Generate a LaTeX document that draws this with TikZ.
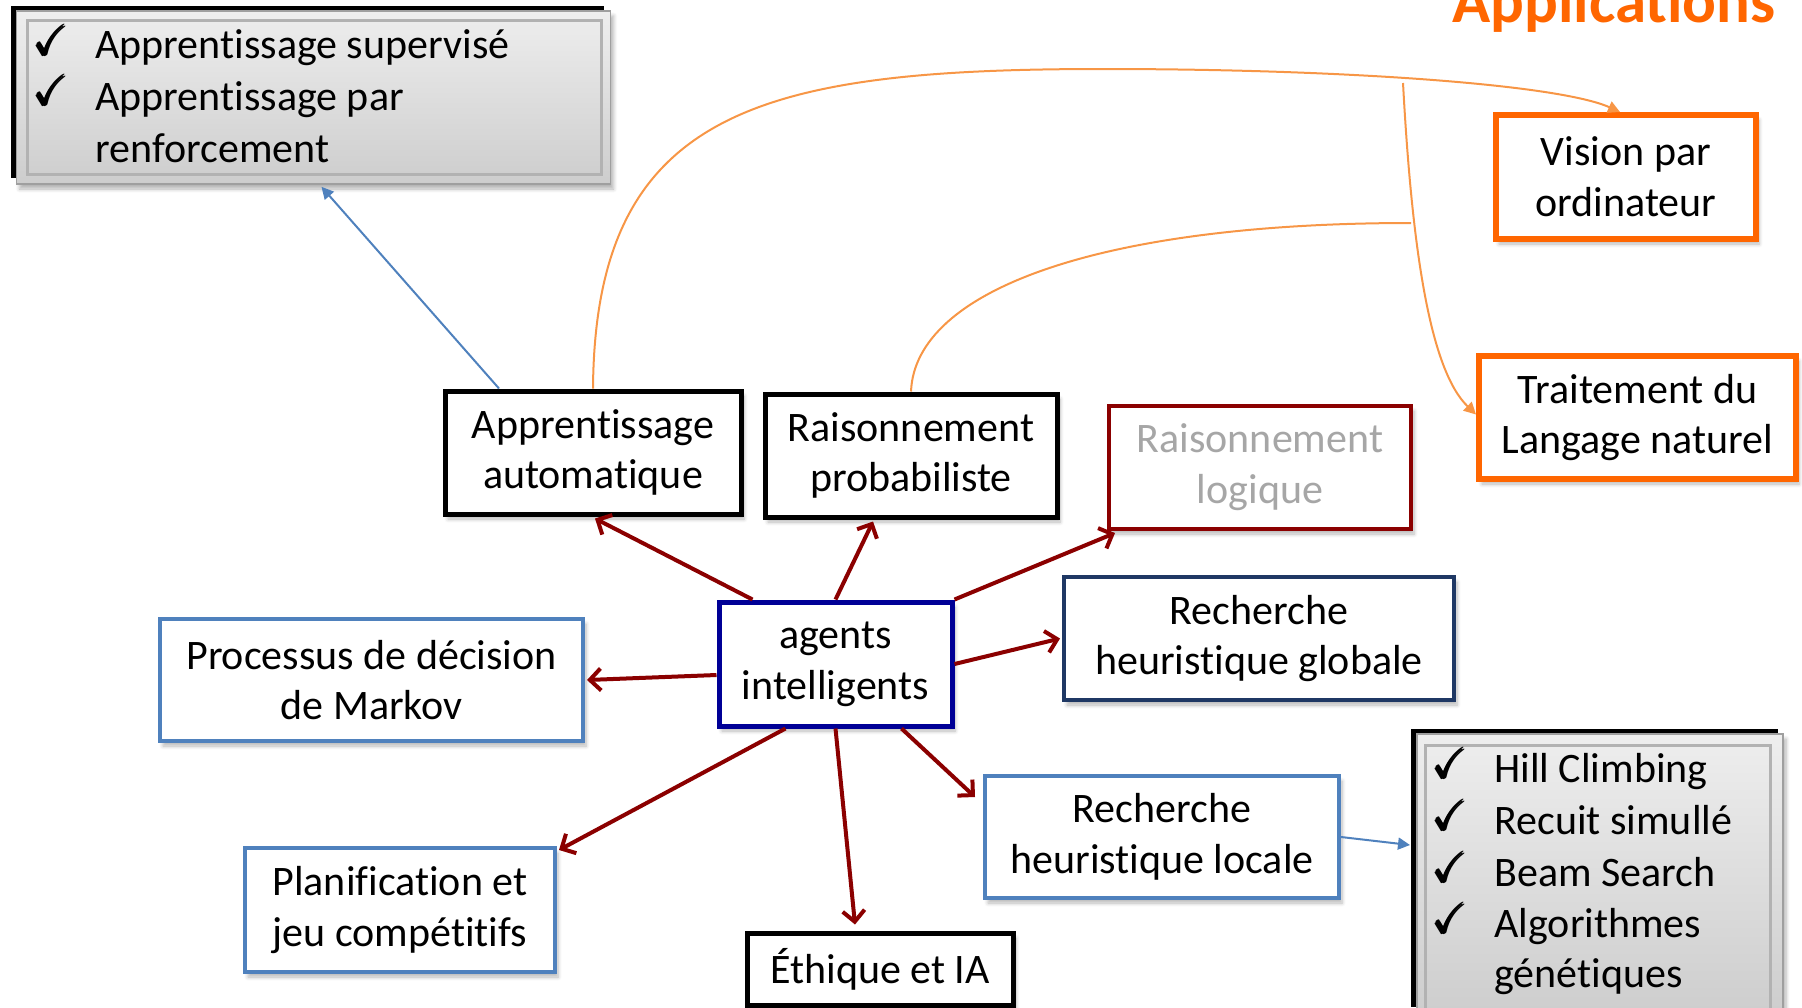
\documentclass[tikz,border=0pt]{standalone}
\usepackage{amsmath,amssymb}
\usepackage{fontspec}
\setmainfont{Carlito}[Ligatures=NoCommon]
\usetikzlibrary{arrows.meta,calc,shadows.blur}

\definecolor{arrowred}{RGB}{139,0,0}
\definecolor{navyedge}{RGB}{0,0,150}
\definecolor{deepblue}{RGB}{31,56,100}
\definecolor{softblue}{RGB}{79,129,189}
\definecolor{orangeedge}{RGB}{255,102,0}
\definecolor{orangeline}{RGB}{247,150,70}
\definecolor{mutedtext}{RGB}{166,166,166}
\definecolor{panelhi}{RGB}{238,238,238}
\definecolor{panello}{RGB}{205,205,205}

\newcommand{\tick}{\makebox[0pt][c]{$\pmb{\checkmark}$}}

\begin{document}
\begin{tikzpicture}[x=0.5pt,y=-0.5pt,
  txt/.style={font=\fontsize{21}{25.4}\selectfont},
  box/.style={txt, draw, fill=white, align=center, inner sep=0pt,
    blur shadow={shadow xshift=1.5pt, shadow yshift=-2.5pt, shadow opacity=28, shadow blur steps=6}},
  blackbox/.style={box, line width=2.5pt, draw=black},
  bluebox/.style={box, line width=2pt, draw=softblue},
  orangebox/.style={box, line width=3pt, draw=orangeedge},
  link/.style={draw=arrowred, line width=2pt, -{Straight Barb[length=5.5pt,width=11pt,line width=2pt]}},
  thinlink/.style={draw=softblue, line width=1pt, -{Triangle[length=6pt,width=6pt]}},
  applink/.style={draw=orangeline, line width=1pt},
  panel/.style={draw=gray!75, line width=0.8pt, top color=panelhi, bottom color=panello,
    blur shadow={shadow xshift=1.5pt, shadow yshift=-2.5pt, shadow opacity=30, shadow blur steps=6}},
  bevel/.style={draw=gray!60, line width=1.5pt},
  item/.style={txt, anchor=base west, inner sep=0pt},
  checkmark/.style={font=\fontsize{21}{24}\selectfont, anchor=base, inner sep=0pt}
]
\useasboundingbox (0,0) rectangle (1802,1007);
\clip (0,0) rectangle (1802,1007);

% ---- title ----
\node[font=\fontsize{31.5}{36}\selectfont\bfseries, text=orangeedge, anchor=base east, inner sep=0pt]
  (title) at (1776,22) {Applications};

% ---- learning panel (top left) ----
\fill[black] (11,6) rectangle (604,178);
\node[panel, minimum width=297pt, minimum height=86.5pt, inner sep=0pt] (sup) at (313.5,97.5) {};
\draw[bevel] (27,20) rectangle (601,174);
\node[checkmark] (c1) at (52,55) {\tick};
\node[item] (s1) at (95,58) {Apprentissage supervisé};
\node[checkmark] (c2) at (52,105) {\tick};
\node[item] (s2) at (95,110) {Apprentissage par};
\node[item] (s3) at (95,162) {renforcement};

% ---- local search panel (bottom right) ----
\fill[black] (1411,729) rectangle (1778,1007);
\node[panel, minimum width=183pt, minimum height=142pt, inner sep=0pt] (heur) at (1600,876) {};
\draw[bevel] (1425,745) rectangle (1770,1010);
\node[checkmark] (c3) at (1451,778) {\tick};
\node[item] (h1) at (1494,782) {Hill Climbing};
\node[checkmark] (c4) at (1451,830) {\tick};
\node[item] (h2) at (1494,834) {Recuit simullé};
\node[checkmark] (c5) at (1451,882) {\tick};
\node[item] (h3) at (1494,886) {Beam Search};
\node[checkmark] (c6) at (1451,933) {\tick};
\node[item] (h4) at (1494,937) {Algorithmes};
\node[item] (h5) at (1494,987) {génétiques};

% ---- topic boxes ----
\node[blackbox, minimum width=148pt, minimum height=61.5pt] (app) at (593,452.5) {Apprentissage\\automatique};
\node[blackbox, minimum width=146pt, minimum height=61.5pt] (prob) at (911,455.5) {Raisonnement\\probabiliste};
\node[box, line width=2pt, draw=arrowred, text=mutedtext, minimum width=151pt, minimum height=61.5pt] (logi) at (1260,467.5) {Raisonnement\\logique};
\node[box, line width=2.5pt, draw=navyedge, minimum width=116.5pt, minimum height=62pt] (ag) at (835.5,664) {agents\\intelligents};
\node[box, line width=2pt, draw=deepblue, minimum width=195pt, minimum height=61.5pt] (glob) at (1259,638.5) {Recherche\\heuristique globale};
\node[bluebox, minimum width=211.5pt, minimum height=61pt] (proc) at (371.5,680) {Processus de décision\\de Markov};
\node[bluebox, minimum width=177pt, minimum height=61pt] (loc) at (1162,837) {Recherche\\heuristique locale};
\node[bluebox, minimum width=155pt, minimum height=62pt] (plan) at (400,910) {Planification et\\jeu compétitifs};
\node[blackbox, minimum width=133pt, minimum height=36pt] (eth) at (880,969) {Éthique et IA};

% ---- application boxes ----
\node[orangebox, minimum width=130pt, minimum height=62pt] (vis) at (1626,177) {Vision par\\ordinateur};
\node[orangebox, minimum width=158.5pt, minimum height=61.5pt] (nlp) at (1637.5,417.5) {Traitement du\\Langage naturel};

% ---- links from the central agent box ----
\draw[link] ([xshift=18pt]ag.north west) -- ([xshift=1pt,yshift=-1pt]app.south);
\draw[link] (ag.north) -- ([xshift=-19pt,yshift=-1pt]prob.south);
\draw[link] (ag.north east) -- ([xshift=4pt,yshift=-1pt]logi.south west);
\draw[link] (ag.east) -- ([xshift=-1pt]glob.west);
\draw[link] ([yshift=-5.5pt]ag.west) -- ([xshift=1pt]proc.east);
\draw[link] ([xshift=-25pt]ag.south) -- ([xshift=1pt,yshift=-2pt]plan.north east);
\draw[link] (ag.south) -- ([xshift=-12.5pt,yshift=3pt]eth.north);
\draw[link] ([xshift=33pt]ag.south) -- ([xshift=-4pt,yshift=-11.5pt]loc.north west);

% ---- detail links ----
\draw[thinlink] ([xshift=-47pt]app.north) -- ([xshift=4pt,yshift=-1pt]sup.south);
\coordinate (heurin) at (1410,845);
\draw[thinlink] (loc.east) -- (heurin);

% ---- application links ----
\coordinate (peak) at (1103,69);
\coordinate (bustop) at (1403,83);
\coordinate (join) at (1411,223);
\draw[applink, -{Triangle[length=6pt,width=6pt]}] (app.north)
  .. controls (595,110) and (760,69) .. (peak)
  .. controls (1350,69) and (1560,85) .. ([xshift=-3pt]vis.north);
\draw[applink] (prob.north) .. controls (915,290) and (1100,223) .. (join);
\draw[applink, -{Triangle[length=6pt,width=6pt]}] (bustop)
  .. controls (1412,250) and (1430,370) .. ([yshift=1.5pt]nlp.west);
\end{tikzpicture}
\end{document}
